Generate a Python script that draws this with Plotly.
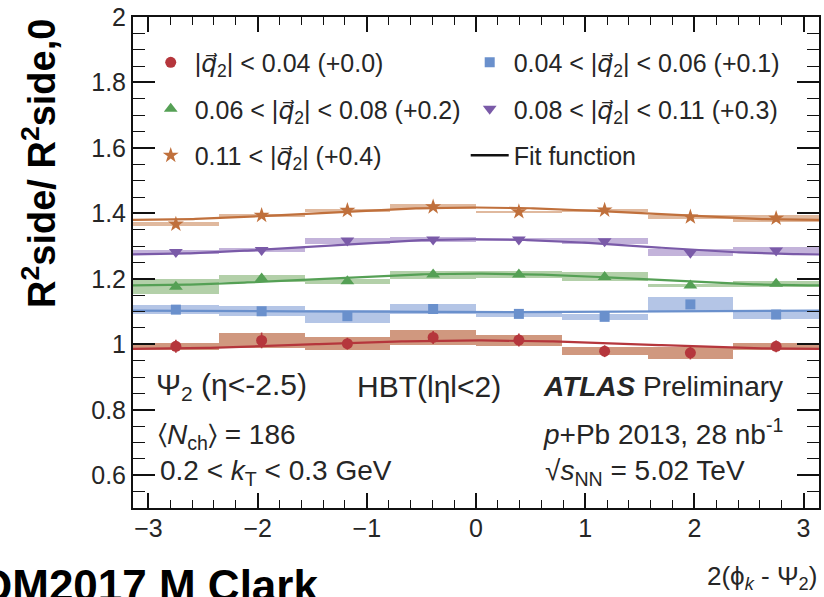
import numpy as np
import plotly.graph_objects as go

# Bin centres in 2(phi_k - Psi_2): 8 equal bins over [-pi, pi]
n_bins = 8
bin_width = 2 * np.pi / n_bins
bin_centres = -np.pi + bin_width * (np.arange(n_bins) + 0.5)

QVEC = "|<span style=\"font-family:DejaVu Sans\"><i>q\u20d7</i></span><sub>2</sub>|"

# R^2_side / R^2_side,0 per |q2| class (before the vertical offset)
labels = [
    QVEC + " &lt; 0.04 (+0.0)",
    "0.04 &lt; " + QVEC + " &lt; 0.06 (+0.1)",
    "0.06 &lt; " + QVEC + " &lt; 0.08 (+0.2)",
    "0.08 &lt; " + QVEC + " &lt; 0.11 (+0.3)",
    "0.11 &lt; " + QVEC + " (+0.4)",
]
offsets = [0.0, 0.1, 0.2, 0.3, 0.4]

ratio_q0 = [0.994, 1.012, 1.002, 1.021, 1.013, 0.979, 0.974, 0.994]
ratio_q1 = [1.006, 1.001, 0.986, 1.008, 0.993, 0.984, 1.022, 0.991]
ratio_q2 = [0.976, 1.001, 0.993, 1.013, 1.013, 1.006, 0.980, 0.985]
ratio_q3 = [0.982, 0.988, 1.017, 1.020, 1.020, 1.015, 0.980, 0.987]
ratio_q4 = [0.967, 0.994, 1.009, 1.020, 1.005, 1.010, 0.989, 0.985]

stat_q0 = [0.020, 0.024, 0.018, 0.020, 0.020, 0.018, 0.020, 0.018]
stat_q1 = [0.006, 0.006, 0.006, 0.006, 0.006, 0.006, 0.006, 0.006]
stat_q2 = [0.006, 0.006, 0.006, 0.006, 0.006, 0.006, 0.006, 0.006]
stat_q3 = [0.006, 0.006, 0.006, 0.006, 0.006, 0.006, 0.006, 0.006]
stat_q4 = [0.008, 0.008, 0.008, 0.008, 0.008, 0.008, 0.008, 0.008]

syst_q0 = [0.010, 0.022, 0.020, 0.022, 0.017, 0.013, 0.018, 0.010]
syst_q1 = [0.0135, 0.015, 0.020, 0.015, 0.008, 0.010, 0.022, 0.0135]
syst_q2 = [0.023, 0.010, 0.008, 0.012, 0.010, 0.0135, 0.005, 0.010]
syst_q3 = [0.007, 0.005, 0.009, 0.0075, 0.005, 0.0085, 0.0115, 0.009]
syst_q4 = [0.006, 0.004, 0.0055, 0.008, 0.003, 0.003, 0.0065, 0.010]

# Fit parameters: c + a*cos(2(phi_k - Psi_2))
fit_const = [0.999, 1.0005, 0.998, 0.998, 0.999]
fit_amp = [0.013, -0.0025, 0.018, 0.023, 0.019]

ratios = [ratio_q0, ratio_q1, ratio_q2, ratio_q3, ratio_q4]
stats = [stat_q0, stat_q1, stat_q2, stat_q3, stat_q4]
systs = [syst_q0, syst_q1, syst_q2, syst_q3, syst_q4]

marker_colors = ["#b5363c", "#6a90cc", "#55a055", "#7a5aa8", "#c0703c"]
box_colors = ["#d0987f", "#b4c5e6", "#b3d0a9", "#c3b3da", "#e0b99e"]
symbols = ["circle", "square", "triangle-up", "triangle-down", "star"]
sizes = [11, 10, 12, 12, 12]
legend_of = ["legend", "legend2", "legend", "legend2", "legend"]

FONT = "Liberation Sans, Arial, Helvetica, sans-serif"
TXT = "#262626"

fig = go.Figure()

# Systematic uncertainty boxes
for k in range(5):
    vals = np.array(ratios[k]) + offsets[k]
    sy = np.array(systs[k])
    fig.add_trace(go.Bar(
        x=bin_centres, y=2 * sy, base=vals - sy, width=bin_width,
        marker=dict(color=box_colors[k], line=dict(width=0)),
        showlegend=False, hoverinfo="skip",
    ))

# Fit functions
phi = np.linspace(-np.pi, np.pi, 241)
for k in range(5):
    fig.add_trace(go.Scatter(
        x=phi, y=fit_const[k] + offsets[k] + fit_amp[k] * np.cos(phi),
        mode="lines", line=dict(color=marker_colors[k], width=2.2),
        showlegend=False, hoverinfo="skip",
    ))

# Data points with statistical errors
for k in range(5):
    vals = np.array(ratios[k]) + offsets[k]
    fig.add_trace(go.Scatter(
        x=bin_centres, y=vals, mode="markers", name=labels[k],
        marker=dict(symbol=symbols[k], size=sizes[k], color=marker_colors[k],
                    line=dict(width=0)),
        error_y=dict(type="data", array=stats[k], width=0, thickness=1.6,
                     color=marker_colors[k]),
        legend=legend_of[k], legendgroup=f"g{k}", legendrank=k,
    ))

fig.add_trace(go.Scatter(
    x=[None], y=[None], mode="lines", name="Fit function",
    line=dict(color="#111111", width=2.5),
    legend="legend2", legendgroup="gfit", legendrank=10,
))

legend_style = dict(
    font=dict(family=FONT, size=25, color=TXT),
    bgcolor="rgba(0,0,0,0)", borderwidth=0,
    xanchor="left", yanchor="top", tracegroupgap=11,
    itemwidth=38, traceorder="grouped",
)

fig.update_layout(
    width=824, height=597,
    margin=dict(l=133, r=3, t=16, b=89),
    paper_bgcolor="white", plot_bgcolor="white",
    barmode="overlay", bargap=0,
    font=dict(family=FONT, color=TXT),
    legend=dict(x=0.02, y=0.954, **legend_style),
    legend2=dict(x=0.485, y=0.954, **legend_style),
    xaxis=dict(
        range=[-np.pi, np.pi], showgrid=False, zeroline=False,
        tickmode="array", tickvals=[-3, -2, -1, 0, 1, 2, 3],
        ticks="inside", ticklen=15, tickwidth=1.5, tickcolor="#111",
        minor=dict(dtick=0.2, tick0=0, ticks="inside", ticklen=8,
                   tickwidth=1.2, tickcolor="#111"),
        showline=True, linecolor="#111", linewidth=2, mirror="ticks",
        tickfont=dict(family=FONT, size=25, color=TXT),
        ticklabelstandoff=-3,
    ),
    yaxis=dict(
        range=[0.5, 2.0], showgrid=False, zeroline=False,
        tick0=0, dtick=0.2,
        ticks="inside", ticklen=22, tickwidth=1.5, tickcolor="#111",
        minor=dict(dtick=0.05, tick0=0, ticks="inside", ticklen=12,
                   tickwidth=1.2, tickcolor="#111"),
        showline=True, linecolor="#111", linewidth=2, mirror="ticks",
        tickfont=dict(family=FONT, size=25, color=TXT),
    ),
)

W, H = 688.0, 492.0  # plot-area size in pixels


def px(x):
    return (x - 133) / W


def py(y):
    return (508 - y) / H


annotations = [
    dict(text="<b>R<sup>2</sup>side/ R<sup>2</sup>side,0</b>", x=px(38), y=py(163),
         xanchor="center", textangle=-90, font=dict(size=38, color="#000")),
    dict(text="2(\u03d5<sub><i>k</i></sub> - \u03a8<sub>2</sub>)", x=1.0, y=py(578),
         xanchor="right", font=dict(size=26)),
    dict(text="<b>QM2017 M Clark</b>", x=px(321), y=py(559), xanchor="right",
         yanchor="top", font=dict(size=44, color="#000")),
    dict(text="\u03a8<sub>2</sub> (\u03b7&lt;-2.5)", x=px(154), y=py(386),
         xanchor="left", font=dict(size=30)),
    dict(text="HBT(l\u03b7l&lt;2)", x=px(356), y=py(386),
         xanchor="left", font=dict(size=30)),
    dict(text="<b><i>ATLAS</i></b> Preliminary", x=px(542), y=py(386),
         xanchor="left", font=dict(size=28)),
    dict(text="\u2329<i>N</i><sub>ch</sub>\u232a = 186", x=px(156), y=py(436),
         xanchor="left", font=dict(size=28)),
    dict(text="0.2 &lt; <i>k</i><sub>T</sub> &lt; 0.3 GeV", x=px(158), y=py(472),
         xanchor="left", font=dict(size=28)),
    dict(text="<i>p</i>+Pb 2013, 28 nb<sup>-1</sup>", x=px(542), y=py(432),
         xanchor="left", font=dict(size=28)),
    dict(text="\u221a<i>s</i><sub>NN</sub> = 5.02 TeV", x=px(544), y=py(472),
         xanchor="left", font=dict(size=28)),
]
for a in annotations:
    a.setdefault("xref", "paper")
    a.setdefault("yref", "paper")
    a.setdefault("showarrow", False)
    a.setdefault("yanchor", "middle")
    a["font"].setdefault("family", FONT)
    a["font"].setdefault("color", TXT)
fig.update_layout(annotations=annotations)

fig.write_html("out.html")
